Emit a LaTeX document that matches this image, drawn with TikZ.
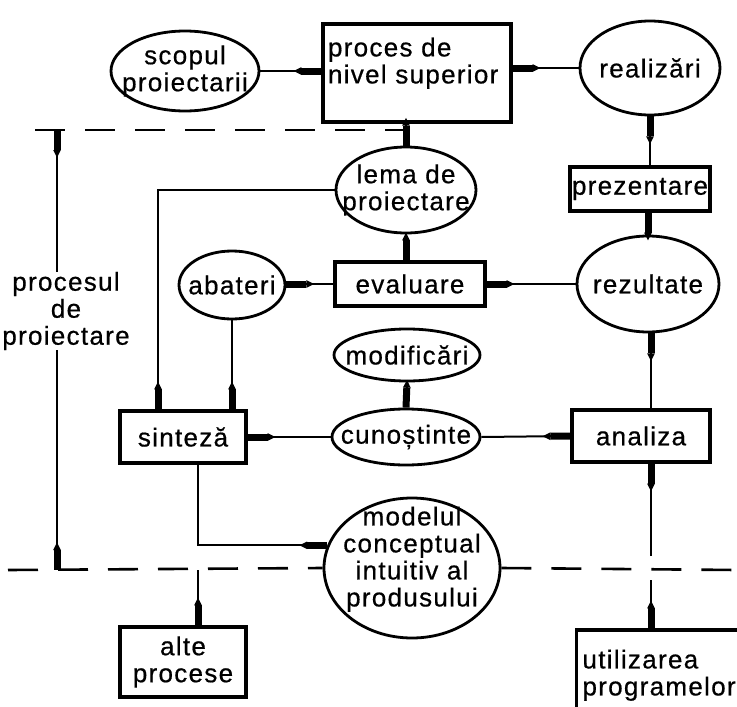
\documentclass[tikz,border=0pt]{standalone}
\usepackage{fontspec}
\setmainfont{Liberation Sans}[LetterSpace=5, FakeBold=0.6]
\usetikzlibrary{shapes.geometric,arrows.meta,calc}

\begin{document}
\begin{tikzpicture}[x=1pt,y=-1pt,
  every node/.style={font=\fontsize{26}{27}\selectfont, inner sep=0pt, align=center},
  box/.style={draw, line width=3.4pt, rectangle},
  oval/.style={draw, line width=2.8pt, ellipse, inner xsep=-25pt, inner ysep=-12pt},
  conn/.style={line width=2pt},
  dart/.tip={Triangle[reversed,length=8pt,width=7pt,sep=0pt]Square[length=20pt,width=7pt]},
  flow/.style={conn, -{dart}},
  border/.style={line width=2.6pt, dash pattern=on 30pt off 20pt}]
\useasboundingbox (0,0) rectangle (737,707);
\clip (0,0) rectangle (737,707);

% processes and data
\node[oval, minimum width=148pt, minimum height=80pt] (scopul) at (185,71) {scopul\\proiectarii};
\node[box, minimum width=188pt, minimum height=98pt, text width=178pt, align=left] (proces) at (417,73) {proces de\\nivel superior\\[-2pt]~};
\node[oval, minimum width=140pt, minimum height=94pt] (realizari) at (650,68) {realizări};
\node[oval, minimum width=140pt, minimum height=86pt] (lema) at (406,190) {lema de\\proiectare};
\node[box, minimum width=140pt, minimum height=44pt] (prezentare) at (640,189) {prezentare};
\node[oval, minimum width=106pt, minimum height=68pt] (abateri) at (232,285) {abateri};
\node[box, minimum width=150pt, minimum height=44pt] (evaluare) at (410,284) {evaluare};
\node[oval, minimum width=142pt, minimum height=96pt] (rezultate) at (648,284) {rezultate};
\node[oval, minimum width=146pt, minimum height=52pt] (modificari) at (407,355) {modificări};
\node[oval, minimum width=148pt, minimum height=56pt] (cunostinte) at (406,437) {cunoștinte};
\node[box, minimum width=126pt, minimum height=52pt] (sinteza) at (183,437) {sinteză};
\node[box, minimum width=138pt, minimum height=52pt] (analiza) at (641,436) {analiza};
\node[oval, minimum width=176pt, minimum height=140pt, inner ysep=-35pt] (modelul) at (412,568) {modelul\\conceptual\\intuitiv al\\produsului\\[-4pt]~};
\node[box, minimum width=126pt, minimum height=70pt] (alte) at (183,662) {alte\\procese};
\node[box, minimum width=183pt, minimum height=110pt, text width=171pt, align=left] (utilizarea) at (668,685) {utilizarea\\programelor\\[-2pt]~};
\node (dimtext) at (66,311) {procesul\\de\\proiectare};

% limits of the design process
\coordinate (dimtop) at (57,130);
\coordinate (dimbot) at (57,570);
\draw[border] (35,130) -- (lema.north |- dimtop);
\draw[border] (8,570) -- (modelul.west);
\draw[border] (modelul.east) -- (737,570);
\draw[flow] (dimtop |- dimtext.north) -- (dimtop);
\draw[flow] (dimbot |- dimtext.south) -- (dimbot);

% connectors
\draw[flow] (scopul.east) -- (scopul.east -| proces.west);
\draw[flow] (realizari.west) -- (realizari.west -| proces.east);
\draw[flow] (lema.north |- proces.south) -- (lema.north);
\draw[flow] (prezentare.north -| realizari.south) -- (realizari.south);
\draw[flow] (rezultate.north) -- (rezultate.north |- prezentare.south);
\draw[flow] (lema.south) -- (lema.south |- evaluare.north);
\draw[flow] (rezultate.west) -- (rezultate.west -| evaluare.east);
\draw[flow] (evaluare.west) -- (evaluare.west -| abateri.east);
\draw[flow] (lema.west) -| ([xshift=-25pt]sinteza.north);
\draw[flow] (abateri.south) -- (abateri.south |- sinteza.north);
\draw[flow] ([xshift=10pt]analiza.north) -- ([xshift=10pt]analiza.north |- rezultate.south);
\draw[flow] (modificari.south) -- (cunostinte.north);
\draw[flow] (cunostinte.west) -- (sinteza.east);
\draw[flow] (cunostinte.east) -- (analiza.west);
\draw[flow] ([xshift=15pt]sinteza.south) |- (modelul.165);
\coordinate (adown1) at (651,556);
\coordinate (adown2) at (651,580);
\draw[flow] (adown1) -- (adown1 |- analiza.south);
\draw[flow] (adown2) -- (adown2 |- utilizarea.north);
\coordinate (altetop) at (198,570);
\draw[flow] (altetop) -- (altetop |- alte.north);
\end{tikzpicture}
\end{document}
